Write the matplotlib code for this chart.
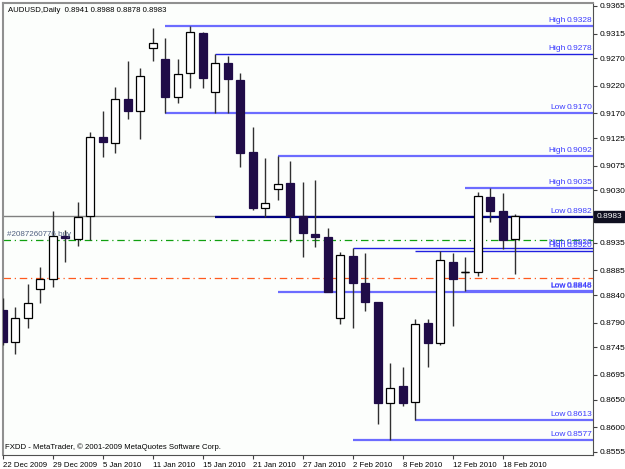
import matplotlib
matplotlib.use("Agg")
import matplotlib.pyplot as plt
import numpy as np

plt.rcParams["font.family"] = ["Liberation Sans", "DejaVu Sans"]

# daily AUDUSD bars, 22 Dec 2009 .. 19 Feb 2010
opens = [0.8813, 0.8755, 0.8798, 0.8851, 0.8869, 0.8947, 0.8942, 0.8984, 0.9127, 0.9116,
         0.9196, 0.9174, 0.9289, 0.9269, 0.9200, 0.9243, 0.9316, 0.9209, 0.9261, 0.9231,
         0.9100, 0.8998, 0.9033, 0.9044, 0.8983, 0.8951, 0.8945, 0.8798, 0.8911, 0.8862,
         0.8827, 0.8644, 0.8675, 0.8646, 0.8789, 0.8753, 0.8900, 0.8882, 0.8882, 0.9018,
         0.8993, 0.8941]
highs = [0.8835, 0.8818, 0.8860, 0.8891, 0.8993, 0.8958, 0.9009, 0.9136, 0.9174, 0.9218,
         0.9265, 0.9252, 0.9325, 0.9307, 0.9269, 0.9328, 0.9318, 0.9278, 0.9274, 0.9243,
         0.9145, 0.9088, 0.9092, 0.9084, 0.9045, 0.9049, 0.8962, 0.8918, 0.8926, 0.8916,
         0.8827, 0.8717, 0.8709, 0.8797, 0.8797, 0.8920, 0.8916, 0.8909, 0.9027, 0.9035,
         0.9025, 0.8988]
lows = [0.8749, 0.8733, 0.8780, 0.8826, 0.8855, 0.8900, 0.8929, 0.8940, 0.9091, 0.9098,
        0.9160, 0.9123, 0.9265, 0.9170, 0.9189, 0.9216, 0.9216, 0.9170, 0.9170, 0.9073,
        0.8995, 0.8982, 0.9013, 0.8936, 0.8909, 0.8927, 0.8846, 0.8788, 0.8780, 0.8811,
        0.8606, 0.8577, 0.8639, 0.8613, 0.8709, 0.8749, 0.8784, 0.8848, 0.8875, 0.8973,
        0.8924, 0.8878]
closes = [0.8755, 0.8798, 0.8826, 0.8869, 0.8947, 0.8944, 0.8982, 0.9127, 0.9118, 0.9196,
          0.9174, 0.9238, 0.9298, 0.9200, 0.9242, 0.9318, 0.9234, 0.9261, 0.9232, 0.9098,
          0.8998, 0.9007, 0.9042, 0.8983, 0.8953, 0.8945, 0.8846, 0.8913, 0.8862, 0.8827,
          0.8644, 0.8671, 0.8644, 0.8788, 0.8753, 0.8904, 0.8869, 0.8882, 0.9020, 0.8993,
          0.8940, 0.8983]

date_labels = ["22 Dec 2009", "29 Dec 2009", "5 Jan 2010", "11 Jan 2010", "15 Jan 2010",
               "21 Jan 2010", "27 Jan 2010", "2 Feb 2010", "8 Feb 2010", "12 Feb 2010",
               "18 Feb 2010"]
price_ticks = [0.9365, 0.9315, 0.9270, 0.9220, 0.9170, 0.9125, 0.9075, 0.9030, 0.8935,
               0.8885, 0.8840, 0.8790, 0.8745, 0.8695, 0.8650, 0.8600, 0.8555]

# high/low levels: value, bar where the line starts, label
level_values = [0.9328, 0.9278, 0.9170, 0.9092, 0.9035, 0.8982, 0.8926, 0.8920,
                0.8848, 0.8846, 0.8613, 0.8577]
level_start = [13, 17, 13, 22, 37, 17, 28, 33, 37, 22, 33, 28]
level_kind = ["High", "High", "Low", "High", "High", "Low", "High", "High",
              "Low", "Low", "Low", "Low"]

bid = 0.8983
order_price = 0.8940
stop_price = 0.8871

W, H = 625, 469
fig = plt.figure(figsize=(W / 100, H / 100), dpi=100, facecolor="white")
ax = fig.add_axes([3 / W, 14 / H, 590 / W, 452 / H])
ax.set_facecolor("#fcfefc")

x = np.arange(len(opens))
o = np.array(opens); c = np.array(closes)
hi = np.array(highs); lo = np.array(lows)
up = c >= o

# wicks, then bodies
ax.vlines(x, lo, hi, color="#303030", lw=1, zorder=3)
ax.bar(x[up], c[up] - o[up], bottom=o[up], width=0.64, color="white",
       edgecolor="black", lw=0.9, zorder=4)
ax.bar(x[~up], o[~up] - c[~up], bottom=c[~up], width=0.64, color="#200c48",
       edgecolor="#200c48", lw=0.9, zorder=4)
doji = np.abs(c - o) < 0.0002
ax.hlines(c[doji], x[doji] - 0.32, x[doji] + 0.32, color="black", lw=1, zorder=5)

ytr = ax.get_yaxis_transform()
for val, start, kind in zip(level_values, level_start, level_kind):
    if val == 0.8982:
        col, lw = "#000080", 1.6
    elif kind == "High" and val in (0.9278, 0.8926, 0.8920):
        col, lw = "#2020e0", 1.0
    else:
        col, lw = "#6c6cff", 1.6
    ax.hlines(val, start, 60, color=col, lw=lw, zorder=2)
    ax.text(0.953, val + 0.00035, kind, transform=ytr, ha="right", va="bottom",
            fontsize=6, color="#3c3cff", zorder=6)
    ax.text(0.999, val + 0.00035, f"{val:.4f}", transform=ytr, ha="right", va="bottom",
            fontsize=6, color="#3c3cff", zorder=6)

# bid, order and stop lines
ax.axhline(bid, color="#808080", lw=1, zorder=1)
ax.axhline(order_price, color="#10a010", lw=0.9, ls=(0, (6, 3, 1, 3)), zorder=1)
ax.axhline(stop_price, color="#ff5a1e", lw=0.9, ls=(0, (6, 3, 1, 3)), zorder=1)
ax.text(0.35, order_price + 0.0004, "#2087260776 buy", fontsize=5.8, color="#506080",
        va="bottom", zorder=6)

ax.set_xlim((3 - 2.5) / 12.5, (593 - 2.5) / 12.5)
ax.set_ylim(0.85495, 0.93704)

ax.set_xticks(np.arange(0, len(date_labels) * 4, 4))
ax.set_xticklabels(date_labels, ha="left", fontsize=5.6)
ax.yaxis.tick_right()
ax.set_yticks(price_ticks)
ax.set_yticklabels([f"{p:.4f}" for p in price_ticks], fontsize=6)
ax.tick_params(axis="x", length=3, pad=2, color="#404040")
ax.tick_params(axis="y", length=3, pad=2, color="#404040")

# current price tag on the price scale
ax.text(1.006, bid, f"{bid:.4f}", transform=ytr, ha="left", va="center", fontsize=6,
        color="white", zorder=7,
        bbox=dict(boxstyle="square,pad=0.25", fc="#101020", ec="#101020"))

for side in ["left", "top"]:
    ax.spines[side].set_color("#909090")
    ax.spines[side].set_linewidth(1.5)
for side in ["right", "bottom"]:
    ax.spines[side].set_color("#505050")

ax.text(0.008, 0.992, "AUDUSD,Daily  0.8941 0.8988 0.8878 0.8983", transform=ax.transAxes,
        fontsize=5.6, va="top", ha="left", color="black")
ax.text(0.004, 0.008, "FXDD - MetaTrader, \u00a9 2001-2009 MetaQuotes Software Corp.",
        transform=ax.transAxes, fontsize=5.6, va="bottom", ha="left", color="black")

fig.savefig("out.png", dpi=100, facecolor="white")
